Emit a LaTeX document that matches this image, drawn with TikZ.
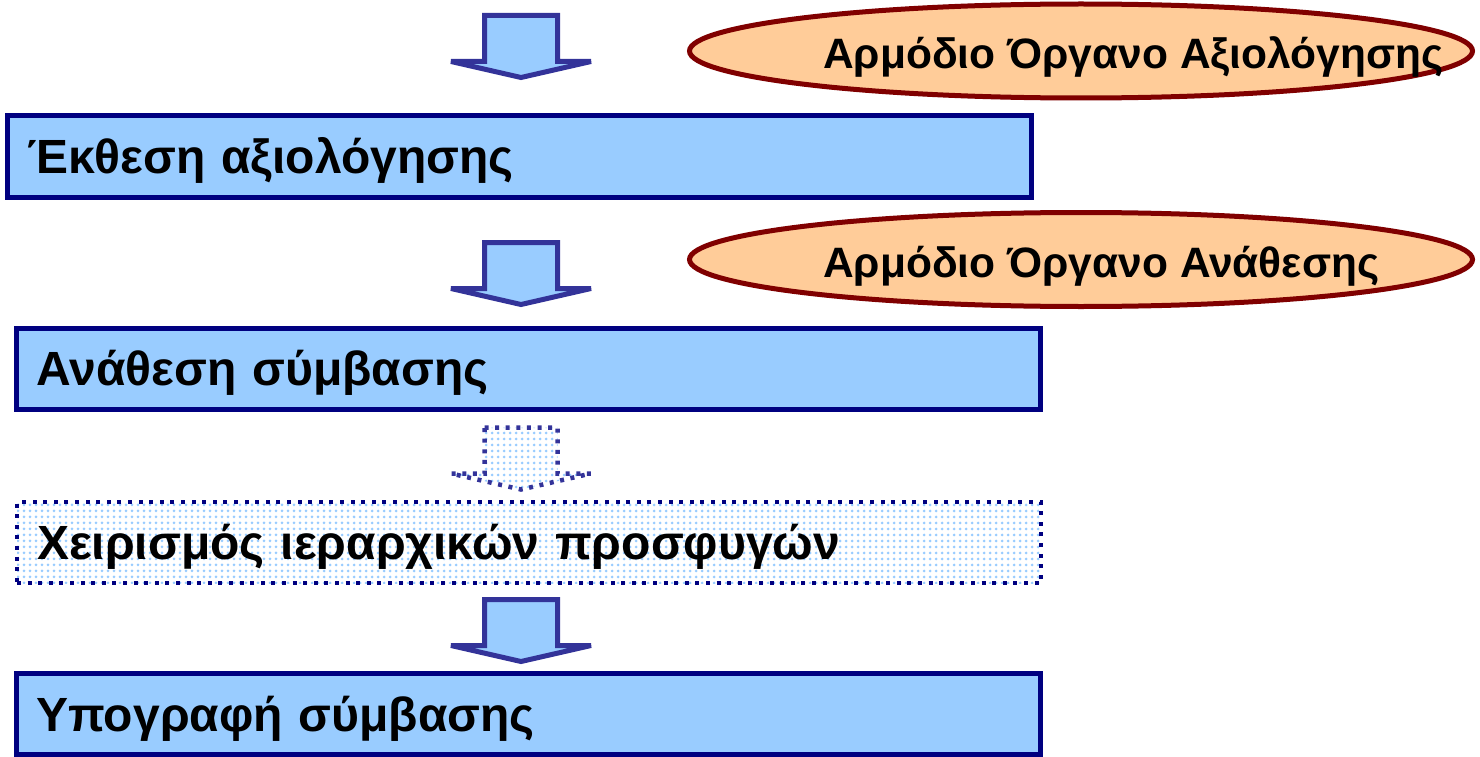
\documentclass[tikz,border=0pt]{standalone}
\usepackage{fontspec}
\setmainfont{Liberation Sans}
\usetikzlibrary{shapes.geometric,patterns.meta}

\definecolor{boxnavy}{HTML}{000080}
\definecolor{boxfill}{HTML}{99CCFF}
\definecolor{arrowblue}{HTML}{333399}
\definecolor{ovalred}{HTML}{800000}
\definecolor{ovalfill}{HTML}{FFCC99}

\tikzset{
  stepbox/.style={draw=boxnavy, fill=boxfill, line width=5pt, outer sep=0pt,
    anchor=west, minimum height=81pt, text width=984pt, inner xsep=20pt,
    align=left, text height=34pt, text depth=0pt,
    font=\fontsize{48}{57}\selectfont\bfseries},
  optbox/.style={stepbox, fill=none, line width=4.5pt,
    dash pattern=on 4pt off 6.6pt,
    pattern={Dots[distance=6pt,radius=1.5pt]}, pattern color=boxfill},
  oval/.style={ellipse, draw=ovalred, fill=ovalfill, line width=5pt,
    outer sep=0pt, inner sep=0pt, minimum width=783pt, minimum height=94pt},
  ovaltext/.style={anchor=west, inner sep=0pt, text height=31pt, text depth=0pt,
    font=\fontsize{42.5}{51}\selectfont\bfseries},
  downarrow/.pic={
    \path[pic actions, miter limit=2] (-36.5,0) -- (36.5,0) -- (36.5,46)
      -- (70,46) -- (0,62) -- (-70,46) -- (-36.5,46) -- cycle;
  }
}

\begin{document}
\begin{tikzpicture}[x=1pt,y=-1pt]
  \useasboundingbox (0,0) rectangle (1480,757);

  \node[oval] (evalbody) at (1081,51) {};
  \node[ovaltext] (evalbodytxt) at (823,53) {Αρμόδιο Όργανο Αξιολόγησης};
  \node[oval] (awardbody) at (1081,259.5) {};
  \node[ovaltext] (awardbodytxt) at (823,262) {Αρμόδιο Όργανο Ανάθεσης};

  \node[stepbox] (report) at (7.5,156.5) {Έκθεση αξιολόγησης};
  \node[stepbox] (award) at (16.5,368.5) {Ανάθεση σύμβασης};
  \node[optbox] (appeals) at (17,542.5) {Χειρισμός ιεραρχικών προσφυγών};
  \node[stepbox] (signing) at (16.5,714) {Υπογραφή σύμβασης};

  \pic[draw=arrowblue, fill=boxfill, line width=5pt] at (521,15.5) {downarrow};
  \pic[draw=arrowblue, fill=boxfill, line width=5pt] at (521,242.5) {downarrow};
  \pic[draw=arrowblue, line width=4.5pt, dash pattern=on 4pt off 6.6pt,
    pattern={Dots[distance=6pt,radius=1.5pt]}, pattern color=boxfill]
    at (521,427.5) {downarrow};
  \pic[draw=arrowblue, fill=boxfill, line width=5pt] at (521,599.5) {downarrow};
\end{tikzpicture}
\end{document}
